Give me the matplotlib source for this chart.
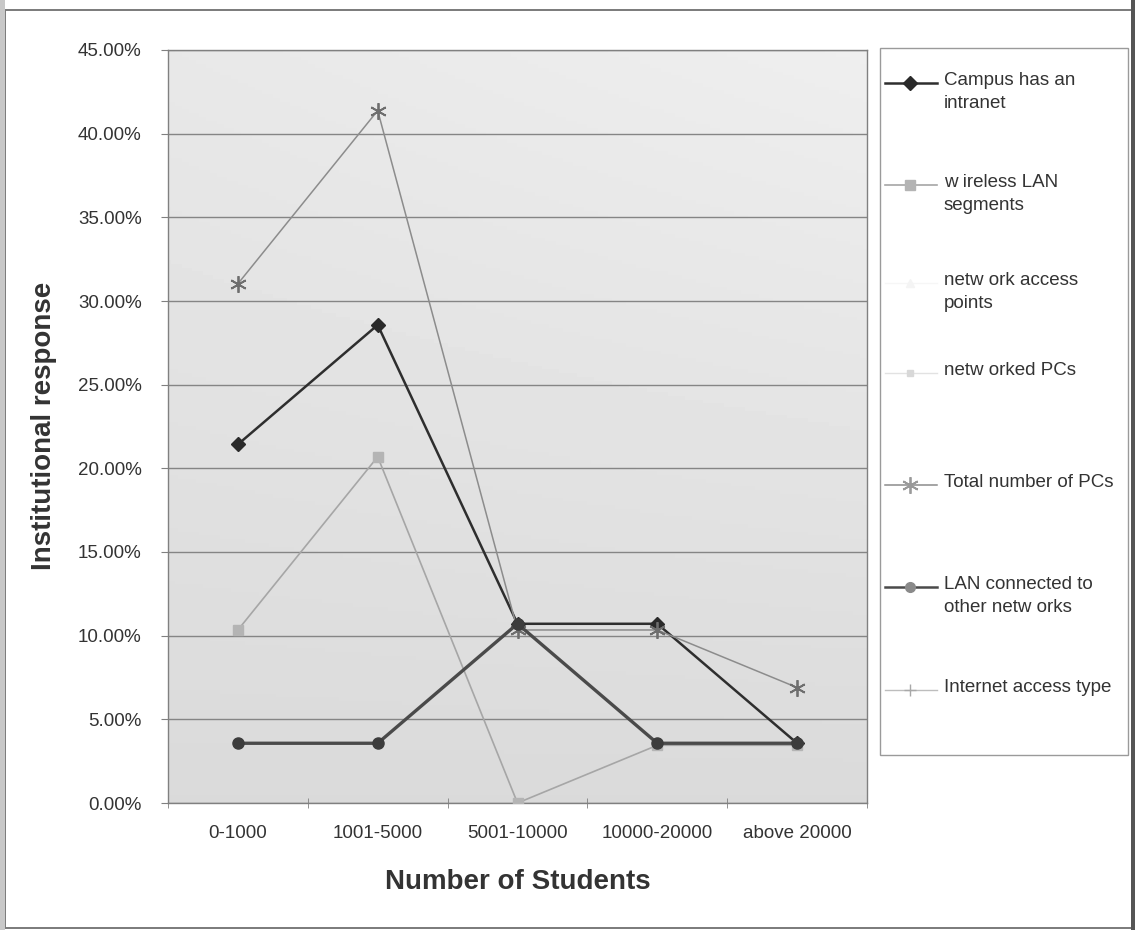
import numpy as np
import matplotlib
matplotlib.use("Agg")
import matplotlib.pyplot as plt
from matplotlib.lines import Line2D
from matplotlib.patches import Rectangle
from matplotlib.ticker import FuncFormatter, FixedLocator

plt.rcParams["font.family"] = ["Liberation Sans", "DejaVu Sans"]

# ---- data (institutional response, % of institutions) ----
categories = ["0-1000", "1001-5000", "5001-10000", "10000-20000", "above 20000"]
intranet = [21.43, 28.57, 10.71, 10.71, 3.57]
wireless_lan = [10.34, 20.69, 0.00, 3.45, 3.45]
total_pcs = [31.03, 41.38, 10.34, 10.34, 6.90]
lan_connected = [3.57, 3.57, 10.71, 3.57, 3.57]
y_ticks = [0, 5, 10, 15, 20, 25, 30, 35, 40, 45]

legend_labels = [
    "Campus has an\nintranet",
    "w ireless LAN\nsegments",
    "netw ork access\npoints",
    "netw orked PCs",
    "Total number of PCs",
    "LAN connected to\nother netw orks",
    "Internet access type",
]

W, H = 1139, 930
fig = plt.figure(figsize=(W / 100, H / 100), dpi=100)
fig.patch.set_facecolor("white")

def fx(px):
    return px / W

def fy(py):
    return 1 - py / H

# outer chart frame
fig.patches.append(Rectangle((fx(5), fy(928)), fx(1133) - fx(5), fy(10) - fy(928),
                             transform=fig.transFigure, fill=False,
                             edgecolor="#7a7a7a", lw=1.4, zorder=0))
fig.patches.append(Rectangle((fx(1131), 0), fx(4), 1, transform=fig.transFigure,
                             facecolor="#555555", edgecolor="none", zorder=0))
fig.patches.append(Rectangle((0, 0), fx(5), 1, transform=fig.transFigure,
                             facecolor="#c8c8c8", edgecolor="none", zorder=0))

ax = fig.add_axes([fx(168), fy(803), fx(867) - fx(168), fy(50) - fy(803)])

# soft grey plot-area fill, lighter toward the top right
gy, gx = np.mgrid[0:1:200j, 0:1:200j]
shade = 0.855 + 0.055 * gy + 0.025 * gx * gy
ax.imshow(shade, cmap="gray", vmin=0, vmax=1, origin="lower", aspect="auto",
          extent=[0, 1, 0, 1], transform=ax.transAxes, zorder=0)

x = np.arange(len(categories))

ax.plot(x, intranet, color="#2e2e2e", lw=1.8, marker="D", ms=7,
        mfc="#2a2a2a", mec="#2a2a2a", zorder=3)
ax.plot(x, wireless_lan, color="#a6a6a6", lw=1.2, marker="s", ms=7,
        mfc="#b4b4b4", mec="#b4b4b4", zorder=3)
ax.plot(x, total_pcs, color="#8c8c8c", lw=1.1, marker=(6, 2, 0), ms=12,
        mec="#6e6e6e", mew=1.3, zorder=3)
ax.plot(x, lan_connected, color="#4a4a4a", lw=2.4, marker="o", ms=8,
        mfc="#3c3c3c", mec="#3c3c3c", zorder=4)

ax.set_xlim(-0.5, len(categories) - 0.5)
ax.set_ylim(0, 45)
ax.set_yticks(y_ticks)
ax.yaxis.set_major_formatter(FuncFormatter(lambda v, p: f"{v:.2f}%"))
ax.grid(axis="y", color="#858585", lw=1.0, zorder=1)
ax.set_axisbelow(True)

ax.set_xticks(x)
ax.set_xticklabels(categories)
ax.xaxis.set_minor_locator(FixedLocator(np.arange(-0.5, len(categories), 1.0)))
ax.tick_params(axis="x", which="major", length=0, pad=16, labelsize=13.5,
               labelcolor="#333333")
ax.tick_params(axis="x", which="minor", length=7, direction="inout",
               color="#808080")
ax.tick_params(axis="y", length=5, direction="out", color="#808080", pad=14,
               labelsize=13.5, labelcolor="#333333")
for s in ax.spines.values():
    s.set_color("#808080")
    s.set_linewidth(1.0)

fig.text(fx(518), fy(882), "Number of Students", ha="center", va="center",
         fontsize=20, fontweight="bold", color="#333333")
fig.text(fx(44), fy(426), "Institutional response", ha="center", va="center",
         rotation=90, fontsize=20, fontweight="bold", color="#333333",
         family=["Liberation Sans Narrow", "Liberation Sans"])

# legend box
fig.patches.append(Rectangle((fx(880), fy(755)), fx(1128) - fx(880), fy(48) - fy(755),
                             transform=fig.transFigure, facecolor="white",
                             edgecolor="#9a9a9a", lw=1.0, zorder=1))

legend_styles = [
    dict(color="#2e2e2e", lw=1.8, marker="D", ms=7, mfc="#2a2a2a", mec="#2a2a2a"),
    dict(color="#a6a6a6", lw=1.2, marker="s", ms=7, mfc="#b4b4b4", mec="#b4b4b4"),
    dict(color="#f6f6f6", lw=1.0, marker="^", ms=6, mfc="#f4f4f4", mec="#f4f4f4"),
    dict(color="#e2e2e2", lw=1.0, marker="s", ms=4, mfc="#d8d8d8", mec="#d8d8d8"),
    dict(color="#8c8c8c", lw=1.1, marker=(6, 2, 0), ms=12, mec="#9a9a9a", mew=1.3),
    dict(color="#4a4a4a", lw=1.8, marker="o", ms=7, mfc="#8a8a8a", mec="#8a8a8a"),
    dict(color="#bdbdbd", lw=1.0, marker="+", ms=8, mec="#a8a8a8", mew=1.0),
]
handle_y = [83, 185, 283, 373, 485, 587, 690]

for label, style, hy in zip(legend_labels, legend_styles, handle_y):
    fig.add_artist(Line2D([fx(885), fx(937)], [fy(hy), fy(hy)],
                          transform=fig.transFigure, zorder=2,
                          markevery=[], **style))
    fig.add_artist(Line2D([fx(910)], [fy(hy)], transform=fig.transFigure,
                          zorder=3, ls="none",
                          **{k: v for k, v in style.items() if k not in ("color", "lw")}))
    fig.text(fx(944), fy(hy), label, ha="left", va="top", fontsize=13.5,
             color="#333333", linespacing=1.45, zorder=3,
             transform=fig.transFigure).set_y(fy(hy - 11))

fig.savefig("out.png", dpi=100, facecolor=fig.get_facecolor())
